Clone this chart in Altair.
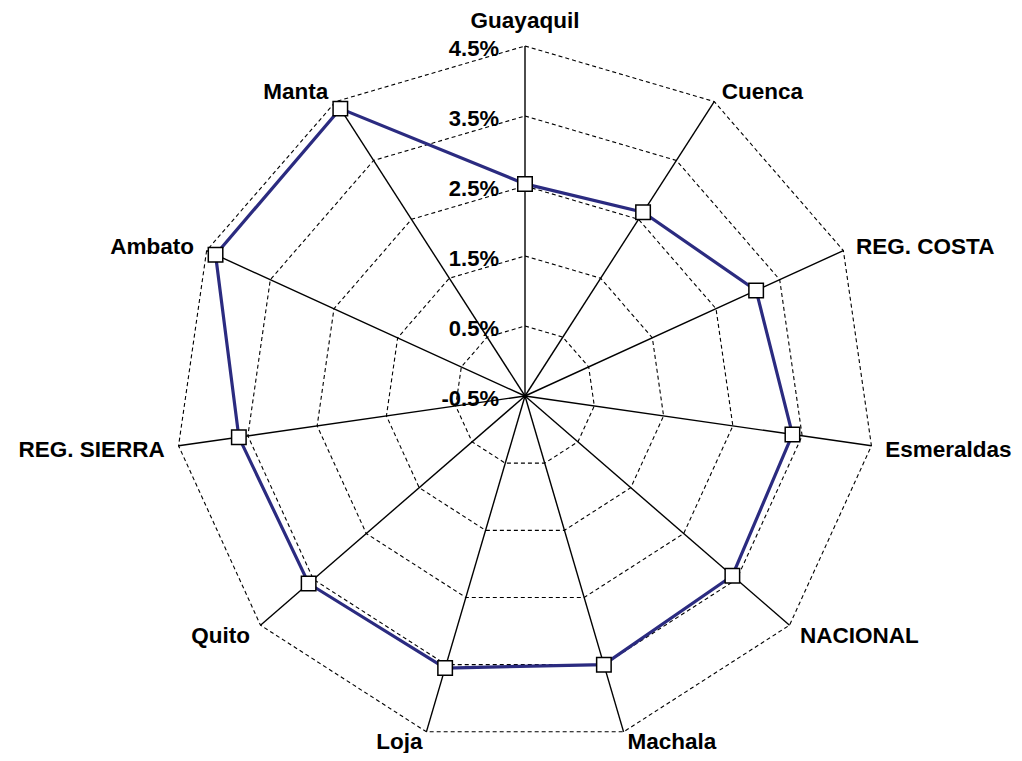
import altair as alt
import pandas as pd

# ---- data ----
categories = ["Guayaquil", "Cuenca", "REG. COSTA", "Esmeraldas", "NACIONAL",
              "Machala", "Loja", "Quito", "REG. SIERRA", "Ambato", "Manta"]
values = [2.53, 2.62, 3.13, 3.36, 3.42, 3.50, 3.55, 3.59, 3.63, 4.36, 4.38]
tick_values = [-0.5, 0.5, 1.5, 2.5, 3.5, 4.5]
tick_labels = ["-0.5%", "0.5%", "1.5%", "2.5%", "3.5%", "4.5%"]

n = len(categories)
rmin = tick_values[0]
rmax = tick_values[-1]

# tables built from the arrays
series_df = pd.DataFrame({
    "cat": categories + [categories[0]],
    "idx": list(range(n)) + [n],
    "value": values + [values[0]],
})
marker_df = pd.DataFrame({"cat": categories, "idx": list(range(n)), "value": values})
grid_rows = []
for lv in tick_values[1:]:
    for i in range(n + 1):
        grid_rows.append({"level": lv, "idx": i, "value": lv})
grid_df = pd.DataFrame(grid_rows)
spoke_df = pd.DataFrame({"idx": list(range(n)), "value": [rmax] * n})
tick_df = pd.DataFrame({"value": tick_values, "label": tick_labels})
label_df = pd.DataFrame({"cat": categories, "idx": list(range(n)), "value": [rmax] * n})

# ---- layout ----
W, H = 1006, 745
PX = 70.0            # pixels per 1%
CX, CY = 517, 388    # centre inside the plot area
x_dom = [-CX / PX, (W - CX) / PX]
y_dom = [-(H - CY) / PX, CY / PX]
xs = alt.Scale(domain=x_dom, nice=False, zero=False)
ys = alt.Scale(domain=y_dom, nice=False, zero=False)

ang = f"datum.idx * 2 * PI / {n}"


def base(df):
    return (alt.Chart(df)
            .transform_calculate(ang=ang)
            .transform_calculate(r=f"datum.value - ({rmin})")
            .transform_calculate(px="datum.r * sin(datum.ang)", py="datum.r * cos(datum.ang)", cx="0"))


X = alt.X("px:Q", scale=xs, axis=None)
Y = alt.Y("py:Q", scale=ys, axis=None)
FONT = "Liberation Sans"

grid = base(grid_df).mark_line(color="black", strokeWidth=1.1, strokeDash=[4, 3]).encode(
    x=X, y=Y, detail="level:N", order="idx:Q")

spokes = base(spoke_df).mark_rule(color="black", strokeWidth=1.4).encode(
    x=alt.X("cx:Q", scale=xs, axis=None), y=alt.Y("cx:Q", scale=ys, axis=None),
    x2="px:Q", y2="py:Q")

line = base(series_df).mark_line(color="#2B2B80", strokeWidth=3.2).encode(
    x=X, y=Y, order="idx:Q")

markers = base(marker_df).mark_square(size=210, filled=True, fill="white",
                                      stroke="black", strokeWidth=1.5, opacity=1).encode(x=X, y=Y)

ticks = base(tick_df).mark_text(align="right", baseline="middle", dx=-26, dy=3,
                                font=FONT, fontWeight="bold", fontSize=22, color="black").encode(
    x=alt.X("cx:Q", scale=xs, axis=None), y=alt.Y("r:Q", scale=ys, axis=None), text="label:N")

lab_r = f"({rmax} - ({rmin})) + 0.2"


def labels(df, filt, align, dy=0):
    c = (alt.Chart(df)
         .transform_calculate(ang=ang)
         .transform_calculate(rl=lab_r)
         .transform_calculate(lx="datum.rl * sin(datum.ang)", ly="datum.rl * cos(datum.ang)")
         .transform_filter(filt))
    return c.mark_text(align=align, baseline="middle", dy=dy, font=FONT, fontWeight="bold",
                       fontSize=22.5, color="black").encode(
        x=alt.X("lx:Q", scale=xs, axis=None), y=alt.Y("ly:Q", scale=ys, axis=None), text="cat:N")


lab_right = labels(label_df, "sin(datum.ang) > 0.1 && cos(datum.ang) > -0.9", "left", dy=2)
lab_left = labels(label_df, "sin(datum.ang) < -0.1 && cos(datum.ang) > -0.9", "right", dy=2)
lab_bot_r = labels(label_df, "sin(datum.ang) > 0.1 && cos(datum.ang) <= -0.9", "left", dy=-3)
lab_bot_l = labels(label_df, "sin(datum.ang) < -0.1 && cos(datum.ang) <= -0.9", "right", dy=-3)
lab_top = labels(label_df, "abs(sin(datum.ang)) <= 0.1", "center", dy=-11)

chart = alt.layer(grid, spokes, line, markers, ticks,
                  lab_right, lab_left, lab_bot_r, lab_bot_l, lab_top).properties(
    width=W, height=H, autosize=alt.AutoSizeParams(type="none"), padding=0,
).configure_view(stroke=None)

chart.save("out.html", embed_options={"renderer": "svg", "actions": False})
